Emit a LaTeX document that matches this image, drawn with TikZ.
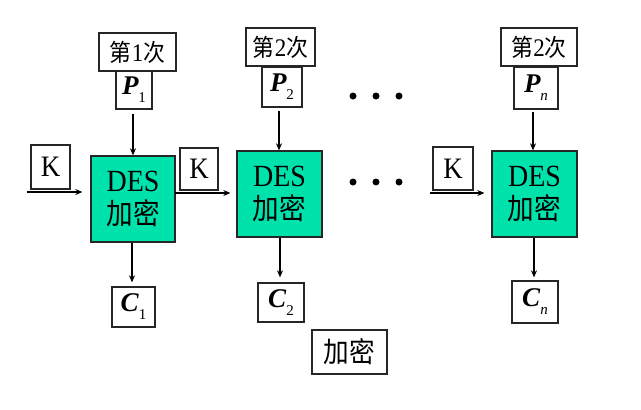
\documentclass[tikz,border=0pt]{standalone}
\usepackage{fontspec}
\setmainfont{Liberation Serif}
\newfontfamily\cjk{Noto Sans CJK SC}[Scale=0.95]
\usetikzlibrary{arrows.meta}
\definecolor{desgreen}{RGB}{0,226,172}
\newcommand{\vs}[1]{\scalebox{1}[1.1]{#1}}
\newcommand{\sbx}[1]{\raisebox{-0.3em}{\fontsize{15}{15}\selectfont #1}}
\newcommand{\mv}[1]{{\bfseries\itshape #1}}
\begin{document}
\begin{tikzpicture}[x=1pt,y=-1pt,
  bx/.style={draw=black!85,line width=1.3pt,inner sep=0pt,fill=white},
  tbox/.style={bx,font=\fontsize{23}{23}\selectfont},
  vbox/.style={bx,font=\fontsize{27}{27}\selectfont},
  desbox/.style={draw=black!85,line width=1.3pt,fill=desgreen,inner sep=0pt,
    minimum width=85pt,minimum height=86pt,align=center,
    font=\fontsize{28}{33}\selectfont},
  arr/.style={line width=1.5pt,-{Stealth[length=7pt,width=6pt]}},
  dot/.style={circle,fill=black,inner sep=0pt,minimum size=7pt}]
\useasboundingbox (0,0) rectangle (641,410);
% column 1
\node[tbox,minimum width=77pt,minimum height=38pt] (t1) at (137.5,52) {\vs{{\cjk 第}1{\cjk 次}}};
\node[vbox,minimum width=36pt,minimum height=38pt] (p1) at (134,90) {\mv{P}\sbx{1}};
\node[desbox,minimum width=84pt] (d1) at (133,199) {\vs{DES}\\[0pt]\vs{\cjk 加密}};
\node[vbox,minimum width=39pt,minimum height=44pt] (k1) at (50.5,167) {\vs{K}};
\node[vbox,minimum width=43pt,minimum height=40pt] (c1) at (133.5,307) {\mv{C}\sbx{1}};
% column 2
\node[tbox,minimum width=69pt,minimum height=38pt] (t2) at (280.5,47) {\vs{{\cjk 第}2{\cjk 次}}};
\node[vbox,minimum width=40pt,minimum height=40pt] (p2) at (282,87) {\mv{P}\sbx{2}};
\node[desbox] (d2) at (279.5,194) {\vs{DES}\\[0pt]\vs{\cjk 加密}};
\node[vbox,minimum width=38pt,minimum height=42pt] (k2) at (199,169) {\vs{K}};
\node[vbox,minimum width=46pt,minimum height=39pt] (c2) at (281,302.5) {\mv{C}\sbx{2}};
% column n
\node[tbox,minimum width=76pt,minimum height=38pt] (tn) at (539,47) {\vs{{\cjk 第}2{\cjk 次}}};
\node[vbox,minimum width=44pt,minimum height=42pt] (pn) at (536,88) {\mv{P}\sbx{\itshape n}};
\node[desbox] (dn) at (534.5,194) {\vs{DES}\\[0pt]\vs{\cjk 加密}};
\node[vbox,minimum width=40pt,minimum height=43pt] (kn) at (453,168.5) {\vs{K}};
\node[vbox,minimum width=46pt,minimum height=42pt] (cn) at (535,302) {\mv{C}\sbx{\itshape n}};
% caption
\node[bx,minimum width=75pt,minimum height=44pt,font=\fontsize{27}{27}\selectfont] (cap) at (349.5,352) {\vs{\cjk 加密}};
% dots
\node[dot] (u1) at (353,96) {};
\node[dot] (u2) at (376,96) {};
\node[dot] (u3) at (399,96) {};
\node[dot] (l1) at (353,182) {};
\node[dot] (l2) at (376,182) {};
\node[dot] (l3) at (399,182) {};
% arrows
\draw[arr,shorten <=4pt] (p1.south -| 133,0) -- (d1.north -| 133,0);
\draw[arr,shorten <=3pt] (p2.south -| 279,0) -- (d2.north -| 279,0);
\draw[arr,shorten <=2pt] (pn.south -| 533,0) -- (dn.north -| 533,0);
\draw[arr,shorten >=4pt] (d1.south -| 132,0) -- (c1.north -| 132,0);
\draw[arr,shorten >=5pt] (d2.south -| 280,0) -- (c2.north -| 280,0);
\draw[arr,shorten >=3pt] (dn.south -| 534,0) -- (cn.north -| 534,0);
\coordinate (a0) at (27,192);
\coordinate (a2) at (175,193);
\coordinate (an) at (430,193);
\draw[arr,shorten >=8pt] (a0) -- (d1.west |- a0);
\draw[arr,shorten >=6pt] (a2) -- (d2.west |- a2);
\draw[arr,shorten >=7pt] (an) -- (dn.west |- an);
\end{tikzpicture}
\end{document}
